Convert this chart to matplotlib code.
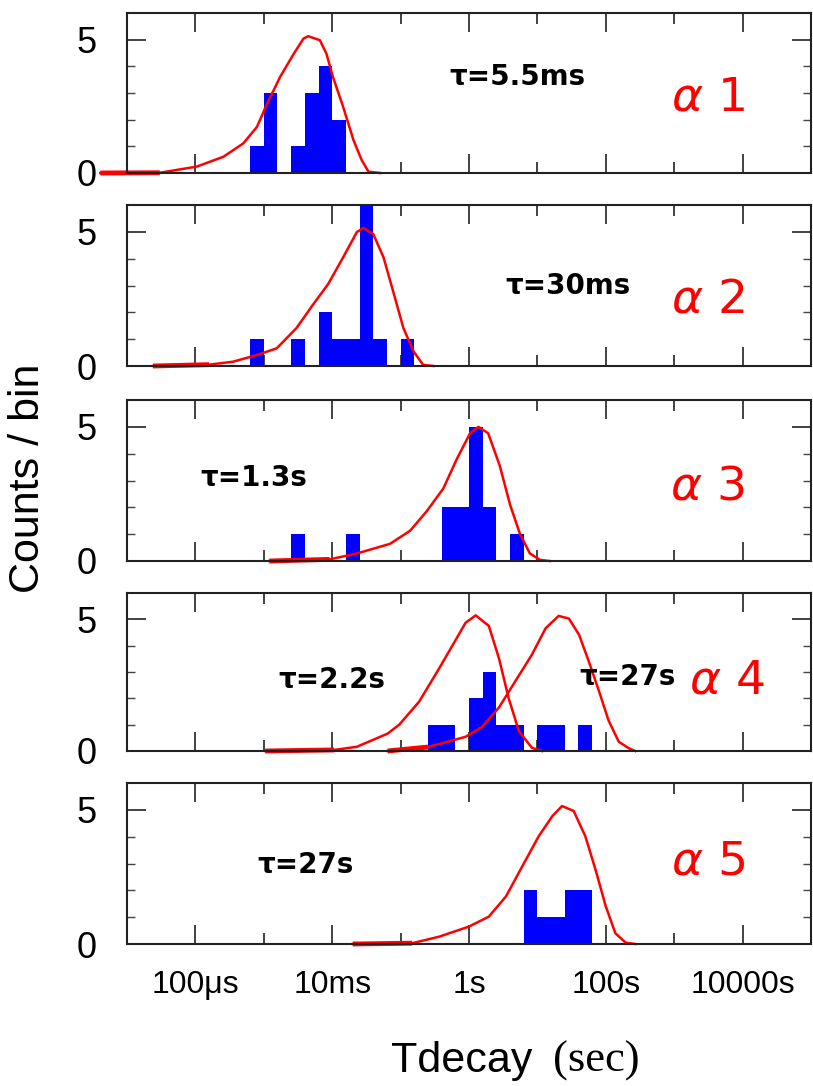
import numpy as np
import matplotlib
matplotlib.use('Agg')
import matplotlib.pyplot as plt
from matplotlib.ticker import FixedLocator, FixedFormatter, NullFormatter

plt.rcParams['font.family'] = ['Liberation Sans', 'DejaVu Sans']
plt.rcParams['mathtext.fontset'] = 'dejavusans'

# histogram bins: left edge in log10(seconds), bin width 0.2 decade
bin_width = 0.2
p1_lo = [-3.2, -3.0, -2.6, -2.4, -2.2, -2.0]
p1_n = [1, 3, 1, 3, 4, 2]
p2_lo = [-3.2, -2.6, -2.2, -2.0, -1.8, -1.6, -1.4, -1.0]
p2_n = [1, 1, 2, 1, 1, 6, 1, 1]
p3_lo = [-2.6, -1.8, -0.4, -0.2, 0.0, 0.2, 0.6]
p3_n = [1, 1, 2, 2, 5, 2, 1]
p4_lo = [-0.6, -0.4, 0.0, 0.2, 0.4, 0.6, 1.0, 1.2, 1.6]
p4_n = [1, 1, 2, 3, 1, 1, 1, 1, 1]
p5_lo = [0.8, 1.0, 1.2, 1.4, 1.6]
p5_n = [2, 1, 1, 2, 2]

# fitted decay curves (log10 seconds, counts)
p1_fit_t = [-5.39, -4.52, -3.98, -3.59, -3.30, -3.10, -2.95, -2.76, -2.56, -2.42, -2.35,
            -2.18, -2.085, -1.99, -1.84, -1.69, -1.57, -1.47, -1.30]
p1_fit_c = [0, 0.01, 0.24, 0.61, 1.11, 1.73, 2.61, 3.61, 4.48, 5.04, 5.13,
            4.98, 4.48, 3.61, 2.48, 1.24, 0.49, 0.05, 0]
p2_fit_t = [-4.62, -3.80, -3.45, -3.10, -2.81, -2.52, -2.28, -2.06, -1.84, -1.64, -1.545,
            -1.40, -1.25, -1.11, -0.96, -0.81, -0.67, -0.52]
p2_fit_c = [0, 0.05, 0.16, 0.41, 0.66, 1.42, 2.29, 3.05, 4.05, 4.99, 5.14,
            4.92, 4.05, 2.79, 1.42, 0.54, 0.04, 0]
p3_fit_t = [-2.92, -2.04, -1.64, -1.155, -0.86, -0.62, -0.376, -0.18, 0.015, 0.136,
            0.28, 0.45, 0.60, 0.745, 0.89, 1.04, 1.18]
p3_fit_c = [0, 0.06, 0.28, 0.64, 1.13, 1.85, 2.70, 3.79, 4.76, 5.0,
            4.76, 3.55, 2.10, 1.01, 0.28, 0.04, 0]
p4a_fit_t = [-2.98, -1.97, -1.64, -1.19, -1.02, -0.73, -0.44, -0.19, -0.05, 0.098,
             0.29, 0.44, 0.58, 0.73, 0.92, 1.07]
p4a_fit_c = [0, 0.04, 0.16, 0.66, 1.0, 1.87, 3.12, 4.24, 4.87, 5.15,
             4.75, 3.5, 2.0, 0.75, 0.12, 0]
p4b_fit_t = [-1.19, -0.60, -0.05, 0.19, 0.44, 0.68, 0.92, 1.12, 1.31, 1.46,
             1.61, 1.75, 1.90, 2.04, 2.19, 2.34, 2.43]
p4b_fit_c = [0, 0.15, 0.54, 0.91, 1.66, 2.66, 3.66, 4.66, 5.13, 5.03,
             4.41, 3.41, 2.28, 1.16, 0.35, 0.1, 0]
p5_fit_t = [-1.70, -0.83, -0.44, 0.0, 0.29, 0.54, 0.78, 1.02, 1.22, 1.36,
            1.53, 1.70, 1.85, 2.0, 2.14, 2.29, 2.43]
p5_fit_c = [0, 0.03, 0.27, 0.65, 1.02, 1.77, 2.9, 4.02, 4.77, 5.14,
            4.96, 4.02, 2.77, 1.40, 0.40, 0.05, 0]

tau_labels = ['τ=5.5ms', 'τ=30ms', 'τ=1.3s', 'τ=2.2s', 'τ=27s']
alpha_labels = ['$\\alpha$ 1', '$\\alpha$ 2', '$\\alpha$ 3', '$\\alpha$ 4', '$\\alpha$ 5']
xtick_labels = ['100μs', '10ms', '1s', '100s', '10000s']

panels = [
    (p1_lo, p1_n, [(p1_fit_t, p1_fit_c)]),
    (p2_lo, p2_n, [(p2_fit_t, p2_fit_c)]),
    (p3_lo, p3_n, [(p3_fit_t, p3_fit_c)]),
    (p4_lo, p4_n, [(p4a_fit_t, p4a_fit_c), (p4b_fit_t, p4b_fit_c)]),
    (p5_lo, p5_n, [(p5_fit_t, p5_fit_c)]),
]

W, H = 813, 1086
fig = plt.figure(figsize=(W / 100, H / 100), dpi=100)

# axes boxes in pixels (top, bottom)
boxes = [(13, 173), (205, 366), (400, 561), (593, 751), (783, 944)]
left_px, right_px = 127, 811

# text placements (axes fraction)
tau_pos = [[(0.472, 0.60, tau_labels[0])],
           [(0.553, 0.50, tau_labels[1])],
           [(0.107, 0.515, tau_labels[2])],
           [(0.222, 0.45, tau_labels[3]), (0.662, 0.47, tau_labels[4])],
           [(0.191, 0.49, tau_labels[4])]]
alpha_pos = [(0.849, 0.47), (0.849, 0.41), (0.849, 0.46), (0.877, 0.44), (0.849, 0.51)]

for i, (lo, n, fits) in enumerate(panels):
    top, bot = boxes[i]
    ax = fig.add_axes([left_px / W, 1 - bot / H, (right_px - left_px) / W, (bot - top) / H])
    ax.set_xscale('log')

    lo = np.array(lo)
    ax.bar(10.0 ** lo, n, width=10.0 ** (lo + bin_width) - 10.0 ** lo, align='edge',
           color='#0000ff', linewidth=0, zorder=2)

    for ft, fc in fits:
        xt = 10.0 ** np.array(ft)
        ax.plot(xt, fc, color='#ff0000', lw=1.8, zorder=3, clip_on=False,
                solid_joinstyle='round')
        # thicker flat tail at the start of each curve
        ax.plot(xt[:2], fc[:2], color='#ff0000', lw=3.5, zorder=3, clip_on=False,
                solid_capstyle='butt')

    ax.set_xlim(1e-5, 1e5)
    ax.set_ylim(0, 6)

    ax.xaxis.set_major_locator(FixedLocator(10.0 ** np.array([-4, -2, 0, 2, 4])))
    ax.xaxis.set_minor_locator(FixedLocator(10.0 ** np.array([-3, -1, 1, 3])))
    ax.xaxis.set_minor_formatter(NullFormatter())
    if i == len(panels) - 1:
        ax.xaxis.set_major_formatter(FixedFormatter(xtick_labels))
    else:
        ax.xaxis.set_major_formatter(NullFormatter())

    ax.yaxis.set_major_locator(FixedLocator([0, 5]))
    ax.yaxis.set_minor_locator(FixedLocator([1, 2, 3, 4]))
    ax.yaxis.set_minor_formatter(NullFormatter())

    ax.tick_params(axis='x', which='major', direction='in', top=True, bottom=True,
                   length=14, width=1.2, color='#222222', labelsize=23, pad=19)
    ax.tick_params(axis='x', which='minor', direction='in', top=True, bottom=True,
                   length=8, width=1.2, color='#222222')
    ax.tick_params(axis='y', which='major', direction='in', left=True, right=True,
                   length=14, width=1.2, color='#222222', labelsize=26, pad=22)
    ax.tick_params(axis='y', which='minor', direction='in', left=True, right=True,
                   length=6, width=1.0, color='#444444')
    for sp in ax.spines.values():
        sp.set_linewidth(1.5)
        sp.set_color('#222222')
        sp.set_zorder(4)

    for xf, yf, lab in tau_pos[i]:
        ax.text(xf, yf, lab, transform=ax.transAxes, ha='left', va='center',
                fontsize=20, fontweight='bold', family=['DejaVu Sans'], zorder=5)
    ax.text(alpha_pos[i][0], alpha_pos[i][1], alpha_labels[i], transform=ax.transAxes,
            ha='center', va='center', fontsize=34, color='#ff0000',
            family=['DejaVu Sans'], zorder=5)

fig.text(28 / W, 1 - 478 / H, 'Counts / bin', rotation=90, ha='center', va='center',
         fontsize=31)
fig.text(391 / W, 1 - 1072 / H, 'Tdecay', ha='left', va='baseline', fontsize=31)
fig.text(553 / W, 1 - 1072 / H, '(sec)', ha='left', va='baseline', fontsize=32,
         family=['Liberation Serif'])

fig.savefig('out.png', dpi=100)
